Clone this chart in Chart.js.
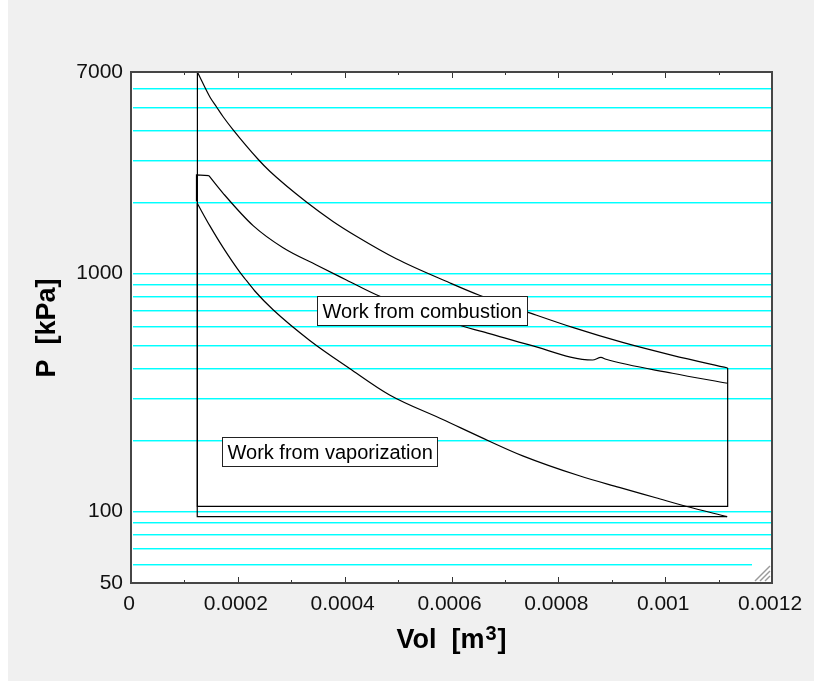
<!DOCTYPE html>
<html>
<head>
<meta charset="utf-8">
<script src="https://cdn.jsdelivr.net/npm/chart.js@4.4.1/dist/chart.umd.min.js"></script>
<style>
  html, body { margin: 0; padding: 0; background: #f0f0f0; }
</style>
</head>
<body>
<canvas id="pv" width="814" height="681"></canvas>
<script>
// P-V diagram, volume in m3, pressure in kPa

// combustion expansion curve
const combVol = [0.0001243, 0.0001477, 0.0001602, 0.0001725, 0.0001912, 0.0002379, 0.0002598, 0.0003284,
  0.0003781, 0.0004219, 0.0004966, 0.0005963, 0.0006523, 0.0007396, 0.0008267, 0.0009202, 0.0010136,
  0.0011170];
const combP = [7000, 5500, 4990, 4540, 4000, 3010, 2680, 1990,
  1650, 1430, 1150, 912, 808, 690, 592, 512, 452,
  400];
// straight sides of the outer loop
const loopVol = [0.0011170, 0.0011170, 0.0001243, 0.0001243];
const loopP = [400, 105, 105, 7000];

// middle curve, with its short vertical and flat start
const midStartVol = [0.0001226, 0.0001226, 0.0001458];
const midStartP = [2000, 2586, 2568];
const midVol = [0.0001458, 0.0001725, 0.0002286, 0.0002847, 0.0003471, 0.0004032,
  0.0004593, 0.0006181, 0.0006710, 0.0007458, 0.0008641, 0.0008798, 0.0008892, 0.0010136, 0.0011170];
const midP = [2568, 2166, 1585, 1280, 1083, 937,
  812, 602, 558, 500, 432, 443, 435, 380, 345];

// vaporization expansion curve
const vapVol = [0.0001240, 0.0001477, 0.0001725, 0.0002037, 0.0002163, 0.0002318, 0.0002660, 0.0003346,
  0.0004093, 0.0004841, 0.0005837, 0.0006710, 0.0007333, 0.0008393, 0.0009140, 0.0009826, 0.0010387,
  0.0011160];
const vapP = [1966, 1580, 1280, 1010, 930, 842, 702, 522,
  398, 308, 243, 197, 171, 141, 126, 114, 105,
  95];
// return line at ~95 kPa
const backVol = [0.0011160, 0.0001240, 0.0001240];
const backP = [95, 95, 1966];

// axes
const xTicks = [0, 0.0002, 0.0004, 0.0006, 0.0008, 0.001, 0.0012];
const xTickLabels = ['0', '0.0002', '0.0004', '0.0006', '0.0008', '0.001', '0.0012'];
const xMinor = [0.0001, 0.0003, 0.0005, 0.0007, 0.0009, 0.0011];
const yGrid = [50, 60, 70, 80, 90, 100, 200, 300, 400, 500, 600, 700, 800, 900, 1000,
  2000, 3000, 4000, 5000, 6000, 7000];
const yLabelled = [50, 100, 1000, 7000];

// text boxes (left edge volume, middle pressure)
const noteText = ['Work from combustion', 'Work from vaporization'];
const noteVol = [0.000348, 0.0001707];
const noteP = [697, 177];

const FONT = "'Liberation Sans', Arial, sans-serif";

function pts(vs, ps) {
  return vs.map((v, i) => ({ x: v, y: ps[i] }));
}

const frame = {
  id: 'frame',
  beforeDraw(chart) {
    const { ctx, chartArea: a } = chart;
    ctx.save();
    ctx.fillStyle = '#f0f0f0';
    ctx.fillRect(0, 0, chart.width, chart.height);
    ctx.fillStyle = '#fff';
    ctx.fillRect(0, 0, 8, chart.height);
    ctx.fillRect(a.left, a.top, a.right - a.left, a.bottom - a.top);
    ctx.restore();
  },
  beforeDatasetsDraw(chart) {
    // cyan pressure grid, every tick except the frame edges
    const { ctx, chartArea: a, scales: { y } } = chart;
    ctx.save();
    yGrid.forEach(v => {
      if (v === y.min || v === y.max) return;
      const py = Math.round(y.getPixelForValue(v));
      ctx.fillStyle = '#00ffff';
      ctx.fillRect(a.left + 2, py, a.right - a.left - 2, 1);
      ctx.fillStyle = 'rgba(0,255,255,0.45)';
      ctx.fillRect(a.left + 2, py + 1, a.right - a.left - 2, 1);
    });
    ctx.restore();
  },
  afterDatasetsDraw(chart) {
    const { ctx, scales: { x, y } } = chart;
    ctx.save();
    ctx.font = '20px ' + FONT;
    ctx.textBaseline = 'middle';
    noteText.forEach((t, i) => {
      const left = Math.round(x.getPixelForValue(noteVol[i])) + 0.5;
      const mid = Math.round(y.getPixelForValue(noteP[i]));
      const w = Math.round(ctx.measureText(t).width) + 10;
      ctx.fillStyle = '#fff';
      ctx.fillRect(left, mid - 14.5, w, 29);
      ctx.strokeStyle = '#222';
      ctx.lineWidth = 1;
      ctx.strokeRect(left, mid - 14.5, w, 29);
      ctx.fillStyle = '#000';
      ctx.fillText(t, left + 5, mid + 1);
    });
    ctx.restore();
  },
  afterDraw(chart) {
    const { ctx, chartArea: a, scales: { x } } = chart;
    ctx.save();

    // resize grip in the corner
    ctx.fillStyle = '#fff';
    ctx.fillRect(a.right - 20, a.bottom - 21, 19, 20);
    ctx.strokeStyle = '#9a9a9a';
    ctx.lineWidth = 1.5;
    [5, 10, 15].forEach(k => {
      ctx.beginPath();
      ctx.moveTo(a.right - 2 - k, a.bottom - 2);
      ctx.lineTo(a.right - 2, a.bottom - 2 - k);
      ctx.stroke();
    });

    // x tick marks, inside, top and bottom
    ctx.strokeStyle = '#333';
    ctx.lineWidth = 1;
    const mark = (v, len) => {
      const px = Math.round(x.getPixelForValue(v)) + 0.5;
      ctx.beginPath();
      ctx.moveTo(px, a.bottom); ctx.lineTo(px, a.bottom - len);
      ctx.moveTo(px, a.top); ctx.lineTo(px, a.top + len);
      ctx.stroke();
    };
    xTicks.forEach(v => mark(v, 6));
    xMinor.forEach(v => mark(v, 3));

    // plot frame
    ctx.strokeStyle = '#464646';
    ctx.lineWidth = 2;
    ctx.strokeRect(a.left, a.top, a.right - a.left, a.bottom - a.top);

    // axis titles
    ctx.fillStyle = '#000';
    ctx.font = 'bold 27px ' + FONT;
    ctx.textBaseline = 'middle';
    ctx.textAlign = 'center';
    ctx.save();
    ctx.translate(48, (a.top + a.bottom) / 2 + 0.5);
    ctx.rotate(-Math.PI / 2);
    ctx.fillText('P  [kPa]', 0, 0);
    ctx.restore();

    ctx.textAlign = 'left';
    ctx.textBaseline = 'alphabetic';
    const p1 = 'Vol  [m', p2 = '3', p3 = ']';
    ctx.font = 'bold 27px ' + FONT;
    const w1 = ctx.measureText(p1).width, w3 = ctx.measureText(p3).width;
    ctx.font = 'bold 20px ' + FONT;
    const w2 = ctx.measureText(p2).width;
    let sx = (a.left + a.right) / 2 - (w1 + w2 + w3 + 2) / 2;
    const base = 648;
    ctx.font = 'bold 27px ' + FONT;
    ctx.fillText(p1, sx, base);
    ctx.font = 'bold 20px ' + FONT;
    ctx.fillText(p2, sx + w1 + 1, base - 8);
    ctx.font = 'bold 27px ' + FONT;
    ctx.fillText(p3, sx + w1 + w2 + 2, base);

    ctx.restore();
  }
};

const straight = { borderColor: '#000', borderWidth: 1.2, pointRadius: 0, tension: 0, fill: false };
const curved = { ...straight, cubicInterpolationMode: 'monotone' };

new Chart(document.getElementById('pv'), {
  type: 'line',
  data: {
    datasets: [
      { ...curved, label: 'combustion', data: pts(combVol, combP) },
      { ...straight, label: 'loop', data: pts(loopVol, loopP) },
      { ...straight, label: 'middle start', data: pts(midStartVol, midStartP) },
      { ...curved, label: 'middle', data: pts(midVol, midP) },
      { ...curved, label: 'vaporization', data: pts(vapVol, vapP) },
      { ...straight, label: 'return', data: pts(backVol, backP) }
    ]
  },
  options: {
    responsive: false,
    animation: false,
    events: [],
    layout: { padding: { left: 0, top: 72, right: 42, bottom: 0 } },
    plugins: { legend: { display: false }, tooltip: { enabled: false } },
    scales: {
      x: {
        type: 'linear',
        min: 0,
        max: 0.0012,
        afterBuildTicks: s => { s.ticks = xTicks.map(v => ({ value: v })); },
        afterFit: s => { s.height = 98; },
        grid: { display: false, drawTicks: false },
        border: { display: false },
        ticks: {
          padding: 9,
          labelOffset: -2,
          maxRotation: 0,
          autoSkip: false,
          color: '#111',
          font: { family: FONT, size: 21 },
          callback: (v, i) => xTickLabels[i]
        }
      },
      y: {
        type: 'logarithmic',
        min: 50,
        max: 7000,
        afterBuildTicks: s => { s.ticks = yGrid.map(v => ({ value: v })); },
        afterFit: s => { s.width = 131; },
        grid: { display: false, drawTicks: false },
        border: { display: false },
        ticks: {
          padding: 8,
          autoSkip: false,
          color: '#111',
          font: { family: FONT, size: 21 },
          callback: v => yLabelled.includes(v) ? String(v) : ''
        }
      }
    }
  },
  plugins: [frame]
});
</script>
</body>
</html>
